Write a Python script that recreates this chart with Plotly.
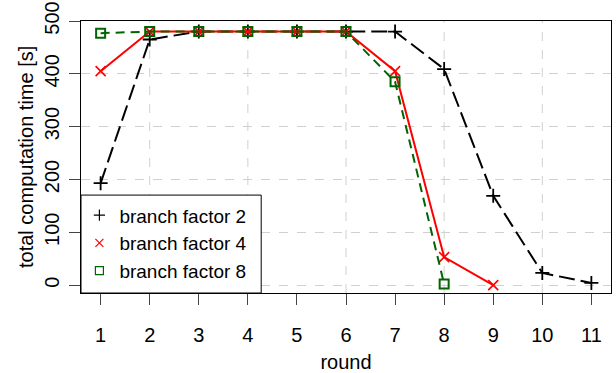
import plotly.graph_objects as go

# ---- data ----
rounds_bf2 = [1, 2, 3, 4, 5, 6, 7, 8, 9, 10, 11]
time_bf2 = [193, 465, 480, 480, 480, 480, 480, 409, 169, 23, 4]

rounds_bf4 = [1, 2, 3, 4, 5, 6, 7, 8, 9]
time_bf4 = [405, 480, 480, 480, 480, 480, 405, 53, 0]

rounds_bf8 = [1, 2, 3, 4, 5, 6, 7, 8]
time_bf8 = [477, 480, 480, 480, 480, 480, 385, 2]

x_ticks = list(range(1, 12))
y_ticks = [0, 100, 200, 300, 400, 500]
x_grid = [2, 4, 6, 8, 10]

series_names = ["branch factor 2", "branch factor 4", "branch factor 8"]

FONT = "Liberation Sans, Arial, sans-serif"

fig = go.Figure()

styles = [
    dict(color="black", dash="16px,6px", symbol="cross-thin", size=10, mlw=1.8),
    dict(color="red", dash="solid", symbol="x-thin", size=10, mlw=1.6),
    dict(color="#006400", dash="9px,6px", symbol="square-open", size=9, mlw=2),
]
data = [(rounds_bf2, time_bf2), (rounds_bf4, time_bf4), (rounds_bf8, time_bf8)]

for (xs, ys), st, name in zip(data, styles, series_names):
    fig.add_trace(go.Scatter(
        x=xs, y=ys, mode="lines+markers", showlegend=False, name=name,
        line=dict(color=st["color"], width=2, dash=st["dash"]),
        marker=dict(symbol=st["symbol"], size=st["size"], color=st["color"],
                    line=dict(color=st["color"], width=st["mlw"])),
    ))

# legend-only entries (markers only, like the reference)
for st, name in zip(styles, series_names):
    fig.add_trace(go.Scatter(
        x=[None], y=[None], mode="markers", name=name,
        marker=dict(symbol=st["symbol"], size=8, color=st["color"],
                    line=dict(color=st["color"], width=1.2)),
    ))

shapes = []
for gx in x_grid:
    shapes.append(dict(type="line", xref="x", yref="paper", x0=gx, x1=gx, y0=0, y1=1,
                       line=dict(color="#d0d0d0", width=1, dash="dash"), layer="below"))
# legend box
shapes.append(dict(type="rect", xref="paper", yref="paper", x0=0, x1=0.34, y0=0, y1=0.36,
                   fillcolor="white", line=dict(color="black", width=1), layer="above"))

fig.update_layout(
    width=616, height=373, autosize=False,
    margin=dict(l=81, r=5, t=21, b=80),
    paper_bgcolor="white", plot_bgcolor="white",
    font=dict(family=FONT, size=20, color="black"),
    shapes=shapes,
    legend=dict(x=-0.003, y=0.01, xanchor="left", yanchor="bottom",
                bgcolor="rgba(0,0,0,0)", borderwidth=0,
                font=dict(size=19), tracegroupgap=0),
    annotations=[dict(text="total computation time [s]", xref="paper", yref="paper",
                      x=-55 / 530, y=0.5, xanchor="center", yanchor="middle",
                      textangle=-90, showarrow=False, font=dict(size=20))],
    xaxis=dict(range=[0.6, 11.4], tickmode="array", tickvals=x_ticks,
               ticks="outside", ticklen=11, tickcolor="#444", tickwidth=1,
               showline=True, mirror=True, linecolor="black", linewidth=1,
               showgrid=False, zeroline=False, ticklabelstandoff=13,
               automargin=False,
               title=dict(text="round", standoff=9, font=dict(size=20))),
    yaxis=dict(range=[-15, 500], tickmode="array", tickvals=y_ticks,
               tickangle=-90, ticklabeloverflow="allow",
               ticks="outside", ticklen=11, tickcolor="#444", tickwidth=1,
               showline=True, mirror=True, linecolor="black", linewidth=1,
               showgrid=True, gridcolor="#d0d0d0", griddash="dash", gridwidth=1,
               zeroline=False, ticklabelstandoff=2, automargin=False),
)

fig.write_html("out.html", config={"displayModeBar": False},
               post_script="document.body.style.margin='0px';")
